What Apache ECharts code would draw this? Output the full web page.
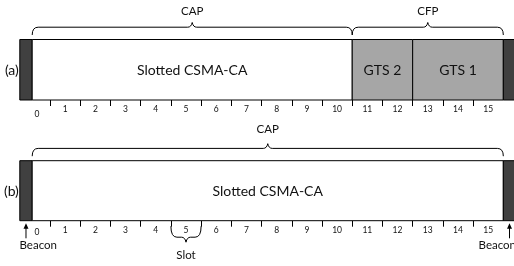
<!DOCTYPE html>
<html><head><meta charset="utf-8">
<script src="https://cdn.jsdelivr.net/npm/echarts@6/dist/echarts.min.js"></script>
<style>html,body{margin:0;padding:0;background:#fff}#c{width:514px;height:266px}</style>
</head><body><div id="c"></div>
<script>
// ---- data ----
const slotLabels = ['0','1','2','3','4','5','6','7','8','9','10','11','12','13','14','15'];
const slotBoundaries = [1,2,3,4,5,6,7,8,9,10,11,12,13,14,15]; // tick marks between slots
const panelLabels = ['(a)', '(b)'];

// panel (a): beacon | CAP | CFP (GTS 2, GTS 1) | next beacon   (in slot units)
const segStartA = [0, 0.41, 11, 13, 16];
const segEndA   = [0.41, 11, 13, 16, 16.41];
const segTypeA  = ['beacon', 'free', 'gts', 'gts', 'beacon'];
const segTextA  = ['', 'Slotted CSMA-CA', 'GTS 2', 'GTS 1', ''];
const braceTextA  = ['CAP', 'CFP'];
const braceStartA = [0.41, 11];
const braceEndA   = [11, 16];

// panel (b): beacon | CAP | next beacon
const segStartB = [0, 0.41, 16];
const segEndB   = [0.41, 16, 16.41];
const segTypeB  = ['beacon', 'free', 'beacon'];
const segTextB  = ['', 'Slotted CSMA-CA', ''];
const braceTextB  = ['CAP'];
const braceStartB = [0.41];
const braceEndB   = [16];
const slotBraceText  = ['Slot'];
const slotBraceStart = [5];
const slotBraceEnd   = [6];
const beaconText = ['Beacon', 'Beacon'];
const beaconSeg  = [0, 2]; // indices of beacon segments in panel (b)

// ---- styles ----
const FONT = 'Lato';
const TXT = '#111';
const FILL = { beacon: '#404040', free: '#ffffff', gts: '#a6a6a6' };

function bracePath(x1, x2, yLine, yEnd, yTip) {
  const r = 6, xm = (x1 + x2) / 2;
  return `M${x1},${yEnd} Q${x1},${yLine} ${x1 + r},${yLine} L${xm - 4.5},${yLine} Q${xm - 1},${yLine} ${xm},${yTip} Q${xm + 1},${yLine} ${xm + 4.5},${yLine} L${x2 - r},${yLine} Q${x2},${yLine} ${x2},${yEnd}`;
}

function segSeries(gi, starts, ends, types, texts, panelLabel) {
  return {
    type: 'custom', xAxisIndex: gi, yAxisIndex: gi, clip: false, silent: true,
    data: starts.map((s, i) => [s, ends[i], i]),
    renderItem(params, api) {
      const i = api.value(2);
      const p0 = api.coord([api.value(0), 1]);
      const p1 = api.coord([api.value(1), 0]);
      const children = [{
        type: 'rect',
        shape: { x: p0[0], y: p0[1], width: p1[0] - p0[0], height: p1[1] - p0[1] },
        style: { fill: FILL[types[i]], stroke: '#000', lineWidth: 1 }
      }];
      if (texts[i]) children.push({
        type: 'text', x: (p0[0] + p1[0]) / 2, y: (p0[1] + p1[1]) / 2 + 1,
        style: { text: texts[i], fill: TXT, fontSize: 14, fontFamily: FONT, align: 'center', verticalAlign: 'middle' }
      });
      if (i === 0) children.push({
        type: 'text', x: p0[0] - 1, y: (p0[1] + p1[1]) / 2 + 1,
        style: { text: panelLabel, fill: TXT, fontSize: 14, fontFamily: FONT, align: 'right', verticalAlign: 'middle' }
      });
      return { type: 'group', children };
    }
  };
}

function braceSeries(gi, starts, ends, texts, labelGap) {
  return {
    type: 'custom', xAxisIndex: gi, yAxisIndex: gi, clip: false, silent: true,
    data: starts.map((s, i) => [s, ends[i], i]),
    renderItem(params, api) {
      const i = api.value(2);
      const a = api.coord([api.value(0), 1]);
      const b = api.coord([api.value(1), 1]);
      const top = a[1];
      const yLine = top - 12.3, yEnd = top - 4.5, yTip = top - 17;
      return { type: 'group', children: [
        { type: 'path', shape: { pathData: bracePath(a[0], b[0], yLine, yEnd, yTip) },
          style: { fill: 'none', stroke: '#000', lineWidth: 1 } },
        { type: 'text', x: (a[0] + b[0]) / 2, y: yLine - labelGap,
          style: { text: texts[i], fill: TXT, fontSize: 11.5, fontFamily: FONT, align: 'center', verticalAlign: 'middle' } }
      ]};
    }
  };
}

function slotBraceSeries(gi) {
  return {
    type: 'custom', xAxisIndex: gi, yAxisIndex: gi, clip: false, silent: true,
    data: slotBraceStart.map((s, i) => [s, slotBraceEnd[i], i]),
    renderItem(params, api) {
      const i = api.value(2);
      const a = api.coord([api.value(0), 0]);
      const b = api.coord([api.value(1), 0]);
      const bot = a[1];
      const yEnd = bot + 5.5, yLine = bot + 16.5, yTip = bot + 21.5;
      return { type: 'group', children: [
        { type: 'path', shape: { pathData: bracePath(a[0], b[0], yLine, yEnd, yTip) },
          style: { fill: 'none', stroke: '#000', lineWidth: 1 } },
        { type: 'text', x: (a[0] + b[0]) / 2, y: bot + 35,
          style: { text: slotBraceText[i], fill: TXT, fontSize: 11.5, fontFamily: FONT, align: 'center', verticalAlign: 'middle' } }
      ]};
    }
  };
}

function beaconSeries(gi) {
  return {
    type: 'custom', xAxisIndex: gi, yAxisIndex: gi, clip: false, silent: true,
    data: beaconSeg.map((k, i) => [(segStartB[k] + segEndB[k]) / 2, i]),
    renderItem(params, api) {
      const i = api.value(1);
      const p = api.coord([api.value(0), 0]);
      const x = p[0], bot = p[1];
      const left = i === 0;
      return { type: 'group', children: [
        { type: 'line', shape: { x1: x, y1: bot + 17.6, x2: x, y2: bot + 7 }, style: { stroke: '#000', lineWidth: 1 } },
        { type: 'polygon', shape: { points: [[x, bot + 2.6], [x - 2.5, bot + 8], [x + 2.5, bot + 8]] }, style: { fill: '#000' } },
        { type: 'text', x: left ? x - 6.5 : x + 6.5, y: bot + 25,
          style: { text: beaconText[i], fill: TXT, fontSize: 11.5, fontFamily: FONT, align: left ? 'left' : 'right', verticalAlign: 'middle' } }
      ]};
    }
  };
}

const slotW = 30.22, leftPx = 19.8, nSlots = slotLabels.length;
const grids = [
  { left: leftPx, top: 39.5, width: slotW * nSlots, height: 60.5 },
  { left: leftPx, top: 160.7, width: slotW * nSlots, height: 60 }
];

function xAxis(gi, zeroPadTop) {
  return { gridIndex: gi, type: 'value', min: 0, max: nSlots, position: 'bottom',
    axisLine: { show: false }, splitLine: { show: false },
    axisTick: { show: true, length: 6, lineStyle: { color: '#000', width: 1 }, customValues: slotBoundaries },
    axisLabel: { margin: 5, fontSize: 8.5, fontFamily: FONT, color: TXT,
      customValues: slotLabels.map((s, i) => i + 0.5),
      formatter: (v) => { const i = Math.floor(v); return i === 0 ? '{z|' + slotLabels[i] + '}' : slotLabels[i]; },
      rich: { z: { fontSize: 8.5, fontFamily: FONT, color: TXT, padding: [zeroPadTop, 0, 0, 4] } } }
  };
}

const chart = echarts.init(document.getElementById('c'), null, { renderer: 'canvas' });
chart.setOption({
  animation: false,
  backgroundColor: '#fff',
  grid: grids,
  xAxis: [xAxis(0, 5), xAxis(1, 2)],
  yAxis: [
    { gridIndex: 0, type: 'value', min: 0, max: 1, show: false },
    { gridIndex: 1, type: 'value', min: 0, max: 1, show: false }
  ],
  series: [
    segSeries(0, segStartA, segEndA, segTypeA, segTextA, panelLabels[0]),
    braceSeries(0, braceStartA, braceEndA, braceTextA, 16),
    segSeries(1, segStartB, segEndB, segTypeB, segTextB, panelLabels[1]),
    braceSeries(1, braceStartB, braceEndB, braceTextB, 19),
    slotBraceSeries(1),
    beaconSeries(1)
  ]
});
</script>
</body></html>
